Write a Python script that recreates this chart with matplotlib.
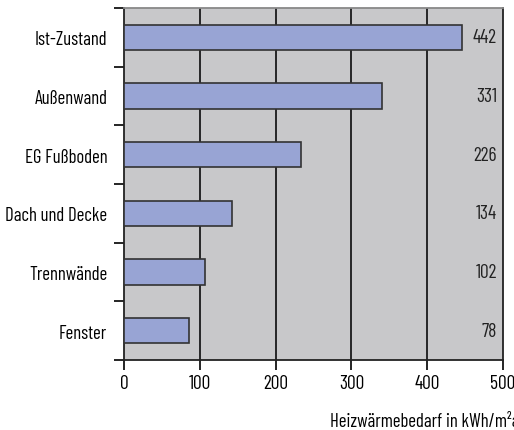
import numpy as np
import matplotlib.pyplot as plt

categories = ['Ist-Zustand', 'Außenwand', 'EG Fußboden', 'Dach und Decke', 'Trennwände', 'Fenster']
bar_values = [446, 340, 233, 142, 107, 86]     # bar lengths as drawn
value_labels = ['442', '331', '226', '134', '102', '78']
xticks = [0, 100, 200, 300, 400, 500]

plt.rcParams['font.family'] = ['Barlow Condensed', 'DejaVu Sans']

fig = plt.figure(figsize=(5.14, 4.31), dpi=100)
ax = fig.add_axes([124/514, 1 - 361/431, 379/514, 352/431])

y = np.arange(len(categories))[::-1]
ax.set_facecolor('#c8c8ca')
ax.barh(y, bar_values, height=0.43, color='#98a4d4', edgecolor='#333333', linewidth=1.2, zorder=3)

for v in xticks[1:-1]:
    ax.axvline(v, color='#1a1a1a', linewidth=1.3, zorder=2)

# value labels sit just inside the right border
for yi, lab in zip(y, value_labels):
    ax.text(492, yi, lab, ha='right', va='center', fontsize=14, color='#222222', zorder=4)

ax.set_xlim(0, 500)
ax.set_ylim(-0.5, len(categories) - 0.5)
ax.set_xticks(xticks)
ax.set_xticklabels([str(v) for v in xticks], fontsize=14)
ax.set_yticks(y)
ax.set_yticklabels(categories, fontsize=13.5)
ax.tick_params(axis='y', length=0, pad=12)
ax.set_yticks(np.arange(-0.5, len(categories)), minor=True)
ax.tick_params(axis='y', which='minor', length=7, width=1.2, direction='out')
ax.tick_params(axis='x', length=7, width=1.2, direction='out', pad=3)

for s in ax.spines.values():
    s.set_color('#222222')
    s.set_linewidth(1.3)
ax.spines['top'].set_color('#888888')

fig.text(330/514, 1 - 422/431, 'Heizwärmebedarf in kWh/m²a', ha='left', va='center', fontsize=13.5)

fig.savefig('out.png', dpi=100)
